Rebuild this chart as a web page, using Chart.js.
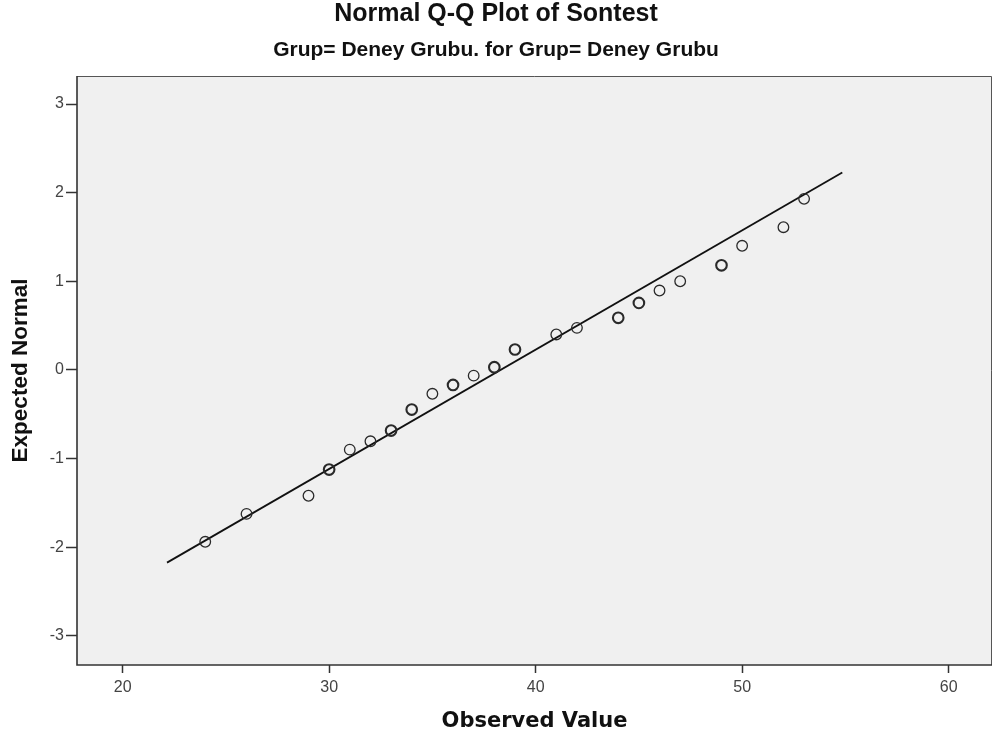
<!DOCTYPE html>
<html>
<head>
<meta charset="utf-8">
<script src="https://cdn.jsdelivr.net/npm/chart.js@4/dist/chart.umd.min.js"></script>
<style>
html,body{margin:0;padding:0;background:#fff;}
#wrap{width:993px;height:745px;position:relative;}
</style>
</head>
<body>
<div id="wrap"><canvas id="c" width="993" height="745"></canvas></div>
<script>
// Data
const observed = [24, 26, 29, 30, 31, 32, 33, 34, 35, 36, 37, 38, 39, 41, 42, 44, 45, 46, 47, 49, 50, 52, 53];
const expectedNormal = [-1.94, -1.625, -1.42, -1.125, -0.90, -0.806, -0.685, -0.448, -0.27, -0.17, -0.065, 0.03, 0.23, 0.40, 0.474, 0.587, 0.756, 0.895, 1.00, 1.18, 1.40, 1.61, 1.93];
const ties = [1, 1, 1, 2, 1, 1, 2, 2, 1, 2, 1, 2, 2, 1, 1, 2, 2, 1, 1, 2, 1, 1, 1];
const lineX = [22.15, 54.85];
const lineY = [-2.175, 2.227];
const xTicks = [20, 30, 40, 50, 60];
const yTicks = [-3, -2, -1, 0, 1, 2, 3];

const bgPlugin = {
  id: 'bg',
  afterLayout(chart) {
    // extend the plot area to the right edge like the original (minus 1px)
    const a = chart.chartArea;
    const target = chart.width - 1;
    if (a.right !== target) {
      a.right = target;
      a.width = a.right - a.left;
      const x = chart.scales.x;
      x.right = target;
      x.width = x.right - x.left;
      x.configure();
    }
  },
  beforeDraw(chart) {
    const {ctx, chartArea: a} = chart;
    ctx.save();
    ctx.fillStyle = '#f0f0f0';
    ctx.fillRect(a.left, a.top, a.right - a.left, a.bottom - a.top);
    ctx.strokeStyle = '#555';
    ctx.lineWidth = 1;
    ctx.beginPath();
    ctx.moveTo(a.left, a.top + 0.5);
    ctx.lineTo(a.right - 0.5, a.top + 0.5);
    ctx.lineTo(a.right - 0.5, a.bottom);
    ctx.stroke();
    ctx.strokeStyle = '#333';
    ctx.lineWidth = 1.6;
    ctx.beginPath();
    ctx.moveTo(a.left, a.top);
    ctx.lineTo(a.left, a.bottom);
    ctx.lineTo(a.right, a.bottom);
    ctx.stroke();
    ctx.restore();
  }
};

new Chart(document.getElementById('c'), {
  type: 'scatter',
  data: {
    datasets: [
      {
        label: 'Observed',
        data: observed.map((x, i) => ({x: x, y: expectedNormal[i]})),
        pointStyle: 'circle',
        pointRadius: 5.3,
        pointHoverRadius: 5.3,
        backgroundColor: 'rgba(0,0,0,0)',
        borderColor: '#2a2a2a',
        pointBorderWidth: ctx => (ties[ctx.dataIndex] > 1 ? 2.1 : 1.3),
        order: 1
      },
      {
        label: 'Line',
        type: 'line',
        data: lineX.map((x, i) => ({x: x, y: lineY[i]})),
        borderColor: '#111',
        borderWidth: 1.8,
        pointRadius: 0,
        fill: false,
        order: 2
      }
    ]
  },
  options: {
    responsive: false,
    animation: false,
    devicePixelRatio: 1,
    layout: {padding: {left: 0, right: 1, top: 0, bottom: 0}},
    plugins: {
      legend: {display: false},
      tooltip: {enabled: false},
      title: {
        display: true,
        text: 'Normal Q-Q Plot of Sontest',
        font: {family: 'Liberation Sans', size: 25, weight: 'bold', lineHeight: 1.1},
        color: '#111',
        padding: {top: 0, bottom: 11.5}
      },
      subtitle: {
        display: true,
        text: 'Grup= Deney Grubu. for Grup= Deney Grubu',
        font: {family: 'Liberation Sans', size: 21, weight: 'bold', lineHeight: 1.1},
        color: '#111',
        padding: {top: 0, bottom: 13.9}
      }
    },
    scales: {
      x: {
        type: 'linear',
        min: 17.79,
        max: 62.1,
        afterFit: s => { s.height = 80; },
        afterBuildTicks: s => { s.ticks = xTicks.map(v => ({value: v})); },
        grid: {display: true, drawOnChartArea: false, drawTicks: true, tickLength: 8, color: '#333', tickWidth: 1.5},
        border: {display: false},
        ticks: {font: {family: 'Liberation Sans', size: 16}, color: '#444', padding: 5},
        title: {
          display: true,
          text: 'Observed Value',
          font: {family: 'DejaVu Sans', size: 21, weight: 'bold'},
          color: '#111',
          padding: {top: 0, bottom: 10.4}
        }
      },
      y: {
        type: 'linear',
        min: -3.33,
        max: 3.316,
        afterFit: s => { s.width = 77; s.paddingTop = 0; s.paddingBottom = 0; },
        afterBuildTicks: s => { s.ticks = yTicks.map(v => ({value: v})); },
        grid: {display: true, drawOnChartArea: false, drawTicks: true, tickLength: 11, color: '#333', tickWidth: 1.5},
        border: {display: false},
        ticks: {font: {family: 'Liberation Sans', size: 16}, color: '#444', padding: 2},
        title: {
          display: true,
          text: 'Expected Normal',
          font: {family: 'Liberation Sans', size: 22.5, weight: 'bold'},
          color: '#111',
          padding: {top: 7, bottom: 0}
        }
      }
    }
  },
  plugins: [bgPlugin]
});
</script>
</body>
</html>
